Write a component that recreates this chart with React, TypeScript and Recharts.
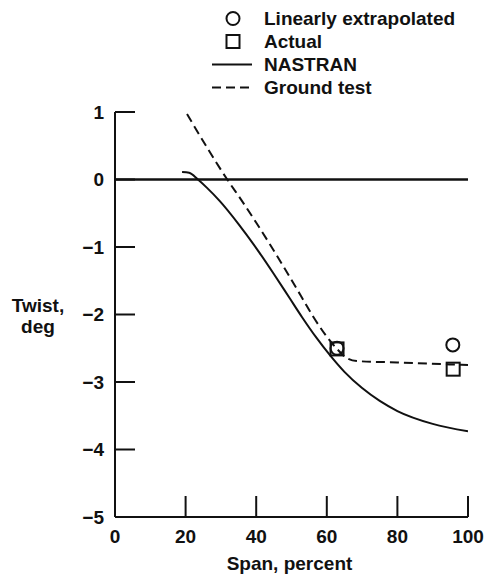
import { ComposedChart, Label, Legend, Line, ReferenceLine, Scatter, XAxis, YAxis } from 'recharts'

// NASTRAN prediction (solid)
const spanNastran = [19, 21, 23.5, 26, 29.7, 35, 41, 45, 49.5, 53, 57, 61, 65, 70, 75, 80, 90, 100]
const twistNastran = [0.11, 0.1, 0, -0.12, -0.32, -0.66, -1.09, -1.4, -1.76, -2.04, -2.34, -2.61, -2.85, -3.09, -3.28, -3.43, -3.62, -3.73]

// ground test (dashed)
const spanGround = [20.4, 31.8, 36, 44, 53.3, 56, 62.9, 65.5, 68.5, 80, 100]
const twistGround = [0.97, 0, -0.32, -0.97, -1.78, -2.02, -2.51, -2.64, -2.69, -2.71, -2.75]

// flight points
const spanExtrapolated = [62.9, 95.7]
const twistExtrapolated = [-2.5, -2.45]
const spanActual = [62.9, 95.8]
const twistActual = [-2.51, -2.81]

const spanTicks = [0, 20, 40, 60, 80, 100]
const twistTicks = [-5, -4, -3, -2, -1, 0, 1]

const zip = (xs: number[], ys: number[]) => xs.map((x, i) => ({ x, y: ys[i] }))

const FONT = '"Liberation Sans", Arial, Helvetica, sans-serif'
const INK = '#111'
const TICK_LEN = 20

const textStyle = { fontFamily: FONT, fontSize: 19, fontWeight: 700, fill: INK }

const formatTwist = (v: number) => String(v).replace('-', '\u2212')

function TwistTick({ x, y, payload }: any) {
  return (
    <g>
      <line x1={x} x2={x + TICK_LEN} y1={y} y2={y} stroke={INK} strokeWidth={2} />
      <text x={x - 11} y={y} dy="0.36em" textAnchor="end" {...textStyle}>
        {formatTwist(payload.value)}
      </text>
    </g>
  )
}

function SpanTick({ x, y, payload }: any) {
  return (
    <g>
      {payload.value !== 0 && <line x1={x} x2={x} y1={y} y2={y - TICK_LEN - 1} stroke={INK} strokeWidth={2} />}
      <text x={x} y={y + 26} textAnchor="middle" {...textStyle}>
        {payload.value}
      </text>
    </g>
  )
}

function TwistLabel({ viewBox }: any) {
  const cx = viewBox.x - 17
  const cy = viewBox.y + viewBox.height / 2
  return (
    <text textAnchor="middle" {...textStyle}>
      <tspan x={cx} y={cy - 2.5}>Twist,</tspan>
      <tspan x={cx} y={cy + 18.5}>deg</tspan>
    </text>
  )
}

function SpanLabel({ viewBox }: any) {
  return (
    <text x={viewBox.x + viewBox.width / 2 - 2} y={viewBox.y + 53} textAnchor="middle" {...textStyle}>
      Span, percent
    </text>
  )
}

const Circle = ({ cx, cy }: any) => <circle cx={cx} cy={cy} r={6.5} fill="none" stroke={INK} strokeWidth={2} />
const Square = ({ cx, cy }: any) => (
  <rect x={cx - 6.5} y={cy - 6.5} width={13} height={13} fill="none" stroke={INK} strokeWidth={2} />
)

const legendItems = [
  { label: 'Linearly extrapolated', kind: 'circle' },
  { label: 'Actual', kind: 'square' },
  { label: 'NASTRAN', kind: 'solid' },
  { label: 'Ground test', kind: 'dashed' },
]

function LegendBox() {
  return (
    <div style={{ fontFamily: FONT, fontSize: 19, fontWeight: 700, color: INK }}>
      {legendItems.map((item) => (
        <div key={item.label} style={{ display: 'flex', alignItems: 'center', height: 23, lineHeight: '23px' }}>
          <svg width={48} height={23} style={{ display: 'block' }}>
            {item.kind === 'circle' && <circle cx={26} cy={11.5} r={6.5} fill="none" stroke={INK} strokeWidth={2} />}
            {item.kind === 'square' && (
              <rect x={19.5} y={5} width={13} height={13} fill="none" stroke={INK} strokeWidth={2} />
            )}
            {item.kind === 'solid' && <line x1={5} x2={45} y1={11.5} y2={11.5} stroke={INK} strokeWidth={2} />}
            {item.kind === 'dashed' && (
              <line x1={5} x2={45} y1={11.5} y2={11.5} stroke={INK} strokeWidth={2} strokeDasharray="9 5" />
            )}
          </svg>
          <span style={{ marginLeft: 9, whiteSpace: 'nowrap' }}>{item.label}</span>
        </div>
      ))}
    </div>
  )
}

export default function App() {
  return (
    <div style={{ position: 'absolute', left: 0, top: 0 }}>
      <ComposedChart width={490} height={578} margin={{ top: 112, right: 22, bottom: 31, left: 55 }}>
        <XAxis
          type="number"
          dataKey="x"
          domain={[0, 100]}
          ticks={spanTicks}
          allowDataOverflow
          height={30}
          tickSize={0}
          tickMargin={0}
          tick={<SpanTick />}
          axisLine={{ stroke: INK, strokeWidth: 2 }}
          label={<Label content={<SpanLabel />} />}
        />
        <YAxis
          type="number"
          dataKey="y"
          domain={[-5, 1]}
          ticks={twistTicks}
          allowDataOverflow
          width={60}
          tickSize={0}
          tickMargin={0}
          tick={<TwistTick />}
          axisLine={{ stroke: INK, strokeWidth: 2 }}
          label={<Label content={<TwistLabel />} />}
        />
        <ReferenceLine y={0} stroke={INK} strokeWidth={2.5} />
        <Line
          data={zip(spanNastran, twistNastran)}
          dataKey="y"
          type="monotone"
          stroke={INK}
          strokeWidth={2}
          dot={false}
          isAnimationActive={false}
        />
        <Line
          data={zip(spanGround, twistGround)}
          dataKey="y"
          type="monotone"
          stroke={INK}
          strokeWidth={2}
          strokeDasharray="9 5"
          dot={false}
          isAnimationActive={false}
        />
        <Scatter data={zip(spanExtrapolated, twistExtrapolated)} dataKey="y" shape={<Circle />} isAnimationActive={false} />
        <Scatter data={zip(spanActual, twistActual)} dataKey="y" shape={<Square />} isAnimationActive={false} />
        <Legend
          layout="vertical"
          align="center"
          verticalAlign="middle"
          content={<LegendBox />}
          wrapperStyle={{ top: 7, left: 207, width: 283 }}
        />
      </ComposedChart>
    </div>
  )
}
